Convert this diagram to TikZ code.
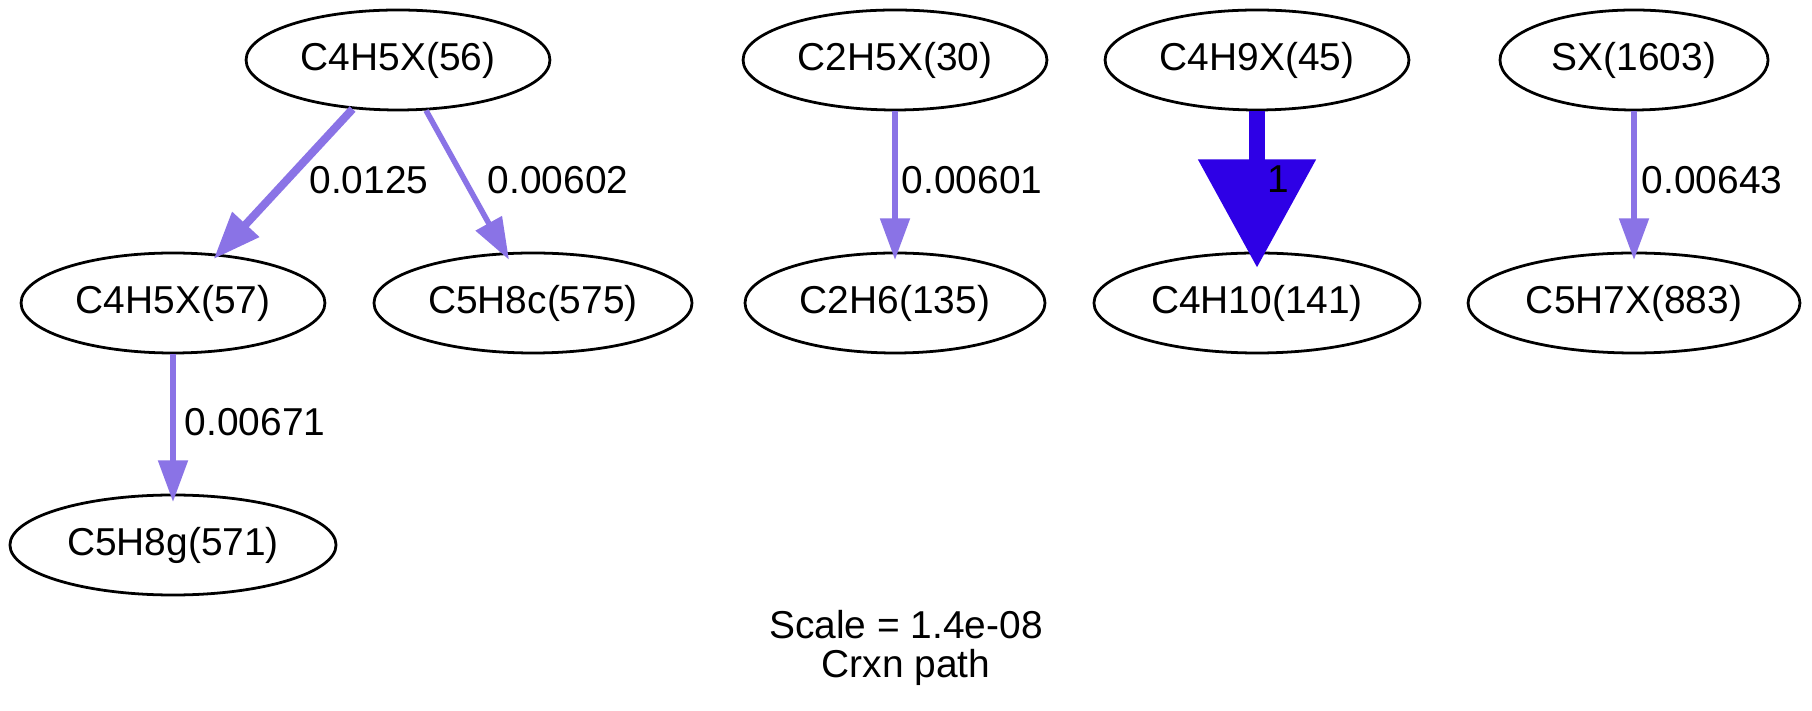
\documentclass[tikz,border=0pt]{standalone}
\usepackage{fontspec}
\setmainfont{Liberation Sans}
\usetikzlibrary{shapes.geometric,arrows.meta}
\definecolor{fluxlight}{RGB}{138,115,230}
\definecolor{fluxstrong}{RGB}{46,0,230}
\begin{document}
\begin{tikzpicture}[x=0.36pt,y=-0.36pt,
  txt/.style={font=\fontsize{14pt}{16pt}\selectfont},
  species/.style={txt, draw=black, line width=1pt, ellipse, inner sep=0pt, minimum height=36pt},
  fluxlabel/.style={txt, inner sep=0pt},
  thinflux/.style={draw=fluxlight, line width=2pt, shorten >=-3pt, -{Triangle[length=15pt,width=10.4pt]}},
  midflux/.style={draw=fluxlight, line width=2.9pt, shorten >=-2.5pt, -{Triangle[length=17pt,width=12.6pt]}},
  strongflux/.style={draw=fluxstrong, line width=5.8pt, shorten >=-5.8pt, -{Triangle[length=39pt,width=41pt]}}
]
\fill[white] (0,0) rectangle (1812,711);
\useasboundingbox (0,0) rectangle (1812,711);

% species
\node[species, minimum width=109.4pt] (n56)   at (398,60)   {C4H5X(56)};
\node[species, minimum width=109.4pt] (n57)   at (173,303)  {C4H5X(57)};
\node[species, minimum width=114.5pt] (n575)  at (533,303)  {C5H8c(575)};
\node[species, minimum width=117.4pt] (n571)  at (173,545)  {C5H8g(571)};
\node[species, minimum width=109.4pt] (n30)   at (895,60)   {C2H5X(30)};
\node[species, minimum width=108pt]   (n135)  at (895,303)  {C2H6(135)};
\node[species, minimum width=109.4pt] (n45)   at (1257,60)  {C4H9X(45)};
\node[species, minimum width=117.4pt] (n141)  at (1257,303) {C4H10(141)};
\node[species, minimum width=96.5pt]  (n1603) at (1634,60)  {SX(1603)};
\node[species, minimum width=119.5pt] (n883)  at (1634,303) {C5H7X(883)};

% fluxes
\draw[midflux]    (n56) -- (n57);
\draw[thinflux]   (n56) -- (n575);
\draw[thinflux]   (n57) -- (n571);
\draw[thinflux]   (n30) -- (n135);
\draw[strongflux] (n45) -- (n141);
\draw[thinflux]   (n1603) -- (n883);

% flux values
\node[fluxlabel] (l1) at (369,180)  {0.0125};
\node[fluxlabel] (l2) at (558,180)  {0.00602};
\node[fluxlabel] (l3) at (255,422)  {0.00671};
\node[fluxlabel] (l4) at (972,180)  {0.00601};
\node[fluxlabel] (l5) at (1278,179) {1};
\node[fluxlabel] (l6) at (1712,180) {0.00643};

% caption
\node[fluxlabel] (cap1) at (906,625) {Scale = 1.4e-08};
\node[fluxlabel] (cap2) at (906,667) {Crxn path};
\end{tikzpicture}
\end{document}
